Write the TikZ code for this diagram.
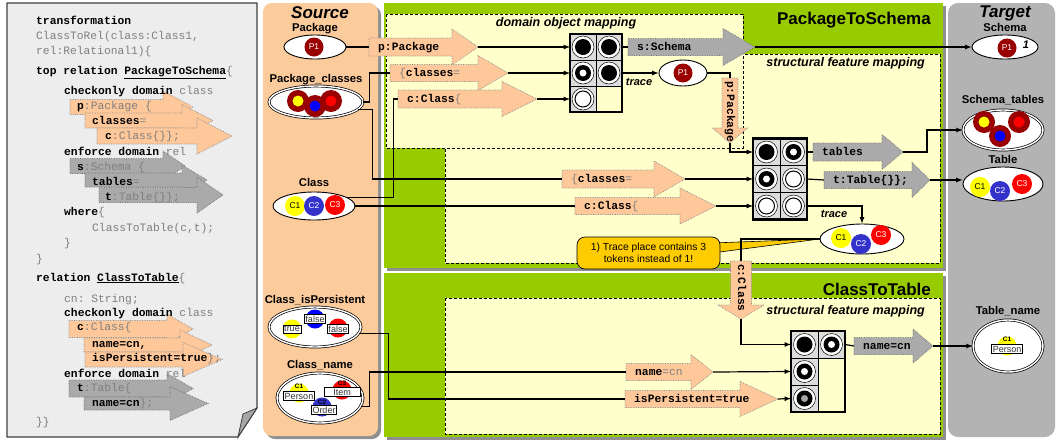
\documentclass[tikz,border=0pt]{standalone}
\usepackage{fontspec}
\setmainfont{Liberation Sans}
\setsansfont{Liberation Sans}
\setmonofont{Liberation Mono}
\usetikzlibrary{shapes.geometric,positioning}

\definecolor{docgray}{HTML}{EDEDED}
\definecolor{srcorange}{HTML}{FCCB9C}
\definecolor{arrorange}{HTML}{FFC89A}
\definecolor{arrgray}{HTML}{AAAAAA}
\definecolor{mapgreen}{HTML}{99CC00}
\definecolor{mapyellow}{HTML}{FFFFCC}
\definecolor{tgtgray}{HTML}{B3B3B3}
\definecolor{shadowgray}{HTML}{8F8F8F}
\definecolor{codegray}{HTML}{7F7F7F}
\definecolor{dkred}{HTML}{990000}
\definecolor{tokyellow}{HTML}{FFFF00}
\definecolor{tokblue}{HTML}{3333CC}
\definecolor{tokred}{HTML}{FF0000}
\definecolor{cellgray}{HTML}{DDDDDD}
\definecolor{notegold}{HTML}{FFCC00}

\newcommand\codefont{\ttfamily\fontsize{11.3}{13}\selectfont}
\newcommand\gry[1]{\textcolor{codegray}{#1}}

% block arrow: style, name, left x, mid y, head x, tip x, half body, half head, text
\newcommand\blockarrow[9]{%
  \draw[#1] (#3,#4-#7) -- (#5,#4-#7) -- (#5,#4-#8) -- (#6,#4) -- (#5,#4+#8) -- (#5,#4+#7) -- (#3,#4+#7) -- cycle;
  \coordinate (#2-in) at (#3,#4);
  \coordinate (#2-out) at (#6,#4);
  \node[codeln] (#2-txt) at (#3+9,#4) {#9};
}
% same, pointing down: style, name, mid x, top y, head y, tip y, half body, half head, text
\newcommand\vblockarrow[9]{%
  \draw[#1] (#3-#7,#4) -- (#3-#7,#5) -- (#3-#8,#5) -- (#3,#6) -- (#3+#8,#5) -- (#3+#7,#5) -- (#3+#7,#4) -- cycle;
  \coordinate (#2-in) at (#3,#4);
  \coordinate (#2-out) at (#3,#6);
  \node[codeln, rotate=-90] (#2-txt) at (#3,#4+3) {#9};
}
% places inside a transition
\newcommand\plcfull[1]{\draw[fill=white, line width=0.5pt] (#1) circle (11pt); \fill (#1) circle (8pt);}
\newcommand\plcring[1]{\draw[fill=white, line width=0.5pt] (#1) circle (11pt); \fill (#1) circle (8pt); \fill[white] (#1) circle (3.5pt);}
\newcommand\plcempty[1]{\draw[fill=white, line width=0.5pt] (#1) circle (11pt); \draw[fill=white, line width=1pt] (#1) circle (8pt);}
\newcommand\plcgray[1]{\draw[fill=white, line width=0.5pt] (#1) circle (11pt); \fill (#1) circle (8pt); \fill[black!35] (#1) circle (3.5pt);}
% token with inner dot
\newcommand\ctok[2]{\fill[dkred] (#1) circle (11pt); \fill[#2] (#1) circle (5.5pt);}

\begin{document}
\begin{tikzpicture}[x=1pt, y=-1pt, >=latex,
  codeln/.style={font=\codefont, anchor=west, inner sep=0pt, text height=8pt, text depth=2pt},
  nodelbl/.style={font=\bfseries\fontsize{11.3}{12}\selectfont, inner sep=0pt, text height=8.5pt, text depth=2.5pt},
  bigttl/.style={font=\bfseries\fontsize{17}{18}\selectfont, inner sep=0pt},
  sidettl/.style={font=\bfseries\itshape\fontsize{17}{18}\selectfont, inner sep=0pt},
  mapname/.style={font=\bfseries\itshape\fontsize{12.5}{13}\selectfont, inner sep=0pt},
  tracelbl/.style={font=\bfseries\itshape\fontsize{11}{12}\selectfont, inner sep=0pt},
  pl/.style={ellipse, draw, fill=white, line width=0.9pt, inner sep=0pt},
  dpl/.style={pl, double, double distance=1.4pt, line width=0.7pt},
  tok/.style={circle, inner sep=0pt, minimum size=19pt, font=\fontsize{8.5}{9}\selectfont},
  valbox/.style={draw, fill=white, inner sep=1.2pt, line width=0.6pt, font=\fontsize{9}{10}\selectfont, text=black!80},
  tinylbl/.style={font=\bfseries\fontsize{6.5}{7}\selectfont, inner sep=0pt},
  oarr/.style={fill=arrorange, draw=black!45, densely dotted, line width=0.7pt},
  garr/.style={fill=arrgray, draw=black!55, densely dotted, line width=0.7pt},
  conn/.style={line width=1.2pt},
  mapbox/.style={draw=black, densely dashed, line width=0.8pt, fill=mapyellow},
  cellbox/.style={draw, fill=cellgray, line width=0.5pt, minimum size=#1, inner sep=0pt, outer sep=0pt},
  blankbox/.style={minimum size=#1, inner sep=0pt, outer sep=0pt},
  notebox/.style={draw, fill=notegold, rounded corners=8pt, line width=0.7pt, minimum width=143pt,
    minimum height=32pt, align=center, inner sep=0pt, font=\fontsize{10.3}{12.5}\selectfont}]

\useasboundingbox (0,0) rectangle (1058,440);

% QVT text
\draw[fill=docgray, draw=black!75, line width=1.2pt] (7,3) -- (257,3) -- (257,408) -- (238,437) -- (7,437) -- cycle;
\draw[fill=black!35, draw=black!75, line width=0.8pt] (238,437) -- (243,414) -- (257,408) -- cycle;

\blockarrow{oarr}{la1}{70}{107}{163}{193}{7.5}{16}{}
\blockarrow{oarr}{la2}{85}{120.5}{182}{213}{7.5}{16}{}
\blockarrow{oarr}{la3}{97}{136}{197}{232}{8}{18}{}
\blockarrow{garr}{la4}{70}{166}{163}{185}{7.5}{15}{}
\blockarrow{garr}{la5}{85}{180}{182}{207}{7}{15}{}
\blockarrow{garr}{la6}{99}{195}{197}{223}{7.5}{18}{}
\blockarrow{oarr}{lb1}{69}{329}{167}{193}{8.5}{15}{}
\blockarrow{oarr}{lb2}{84}{345}{180}{212}{7}{15}{}
\blockarrow{oarr}{lb3}{85}{359.5}{183}{222}{7.5}{17}{}
\blockarrow{garr}{lb4}{69}{388.5}{167}{193}{8.5}{15}{}
\blockarrow{garr}{lb5}{84}{403.5}{170}{208}{6.5}{17}{}

\node[codeln] (l1) at (36,21) {\textbf{transformation}};
\node[codeln] (l2) at (36,36) {\gry{ClassToRel(class:Class1,}};
\node[codeln] (l3) at (36,51) {\gry{rel:Relational1)\{}};
\node[codeln] (l4) at (36,71) {\textbf{top relation \underline{PackageToSchema}}\gry{\{}};
\node[codeln] (l5) at (64,91) {\textbf{checkonly domain} \gry{class}};
\node[codeln] (l6) at (77,106) {\textbf{p}\gry{:Package \{}};
\node[codeln] (l7) at (92,121) {\textbf{classes}\gry{=}};
\node[codeln] (l8) at (105,136) {\textbf{c}\gry{:Class\{\}\};}};
\node[codeln] (l9) at (64,152) {\textbf{enforce domain} \gry{rel}};
\node[codeln] (l10) at (77,167) {\textbf{s}\gry{:Schema \{}};
\node[codeln] (l11) at (92,182) {\textbf{tables}\gry{=}};
\node[codeln] (l12) at (105,197) {\textbf{t}\gry{:Table\{\}\};}};
\node[codeln] (l13) at (64,212) {\textbf{where}\gry{\{}};
\node[codeln] (l14) at (92,228) {\gry{ClassToTable(c,t);}};
\node[codeln] (l15) at (64,243) {\gry{\}}};
\node[codeln] (l16) at (36,259) {\gry{\}}};
\node[codeln] (l17) at (36,278) {\textbf{relation \underline{ClassToTable}}\gry{\{}};
\node[codeln] (l18) at (64,299) {\gry{cn: String;}};
\node[codeln] (l19) at (64,313) {\textbf{checkonly domain} \gry{class}};
\node[codeln] (l20) at (77,327) {\textbf{c}\gry{:Class\{}};
\node[codeln] (l21) at (92,344) {\textbf{name=cn,}};
\node[codeln] (l22) at (92,358) {\textbf{isPersistent=true}\gry{\};}};
\node[codeln] (l23) at (64,374) {\textbf{enforce domain} \gry{rel}};
\node[codeln] (l24) at (77,388) {\textbf{t}\gry{:Table\{}};
\node[codeln] (l25) at (92,403) {\textbf{name=cn}\gry{\};}};
\node[codeln] (l26) at (36,422) {\gry{\}\}}};

% panels
\fill[shadowgray, rounded corners=9pt] (266,6) rectangle (381,439);
\fill[srcorange, rounded corners=9pt] (263,3) rectangle (378,436);
\fill[shadowgray] (387,6) rectangle (946,271);
\fill[mapgreen] (384,3) rectangle (943,268);
\fill[shadowgray] (387,276) rectangle (946,440);
\fill[mapgreen] (384,273) rectangle (943,437);
\draw[mapbox] (445,54) rectangle (940,263);
\draw[mapbox] (386,14) rectangle (743,148);
\draw[mapbox] (445,298) rectangle (940,434);
\fill[tgtgray, rounded corners=10pt] (948,3) rectangle (1055,437);

\node[sidettl] (srcttl) at (320,13) {Source};
\node[sidettl] (tgtttl) at (1005,13) {Target};
\node[bigttl, anchor=east] (p2sttl) at (931,20) {PackageToSchema};
\node[bigttl, anchor=east] (c2tttl) at (931,289) {ClassToTable};
\node[mapname] (domttl) at (566,23) {domain object mapping};
\node[mapname, anchor=east] (sf1ttl) at (925,63) {structural feature mapping};
\node[mapname, anchor=east] (sf2ttl) at (925,311) {structural feature mapping};

% source places
\node[pl, minimum width=62pt, minimum height=24pt] (pkg) at (315,47) {};
\node[nodelbl, above=0pt of pkg] (pkglbl) {Package};
\node[tok, fill=dkred, text=white] (pkgp1) at (314,47) {P1};

\node[dpl, minimum width=94pt, minimum height=32pt] (pcls) at (316,102) {};
\node[nodelbl, above=0pt of pcls] (pclslbl) {Package\_classes};
\ctok{298,101}{tokyellow}
\ctok{315,106}{blue}
\ctok{331,101}{tokred}

\node[pl, minimum width=82pt, minimum height=28pt] (cls) at (314,206) {};
\node[nodelbl, above=2pt of cls] (clslbl) {Class};
\node[tok, fill=tokyellow, minimum size=20pt] (clsc1) at (295,206) {C1};
\node[tok, fill=tokblue, text=white, minimum size=20pt] (clsc2) at (314,206) {C2};
\node[tok, fill=tokred, text=white, minimum size=20pt] (clsc3) at (335,205) {C3};

\node[dpl, minimum width=92pt, minimum height=40pt] (cip) at (315,327) {};
\node[nodelbl, above=0pt of cip] (ciplbl) {Class\_isPersistent};
\node[tok, fill=tokyellow] (cipc1) at (292,329) {};
\node[tok, fill=blue] (cipc2) at (315,319) {};
\node[tok, fill=tokred] (cipc3) at (338,328) {};
\node[valbox] (cipv1) at (292,329) {true};
\node[valbox] (cipv2) at (315,319) {false};
\node[valbox] (cipv3) at (338,329) {false};

\node[dpl, minimum width=86pt, minimum height=50pt] (cnm) at (320,398) {};
\node[nodelbl, above=1.5pt of cnm] (cnmlbl) {Class\_name};
\node[tok, fill=tokyellow] (cnmc1) at (299,393) {};
\node[tok, fill=tokred] (cnmc3) at (342,390) {};
\node[tok, fill=tokblue] (cnmc2) at (322,407) {};
\node[tinylbl] (cnmt1) at (299,386) {C1};
\node[tinylbl] (cnmt3) at (342,383) {C3};
\node[tinylbl] (cnmt2) at (322,402) {C2};
\node[valbox] (cnmv1) at (299,396) {Person};
\node[valbox, minimum width=36pt] (cnmv3) at (342,392) {Item};
\node[valbox] (cnmv2) at (324,410) {Order};

% target places
\node[pl, minimum width=66pt, minimum height=24pt] (schema) at (1005,47) {};
\node[nodelbl, above=0pt of schema] (schemalbl) {Schema};
\node[tok, fill=dkred, text=white] (schp1) at (1007,48) {P1};
\node[tracelbl] (schone) at (1026,45) {1};

\node[dpl, minimum width=80pt, minimum height=40pt] (stab) at (1003,130) {};
\node[nodelbl, above=3pt of stab] (stablbl) {Schema\_tables};
\ctok{984,122}{tokyellow}
\ctok{1019,122}{tokred}
\ctok{1000,136}{blue}

\node[pl, minimum width=80pt, minimum height=34pt] (tab) at (1003,184) {};
\node[nodelbl, above=0pt of tab] (tablbl) {Table};
\node[tok, fill=tokyellow, minimum size=20pt] (tabc1) at (980,187) {C1};
\node[tok, fill=tokblue, text=white, minimum size=20pt] (tabc2) at (1000,191) {C2};
\node[tok, fill=tokred, text=white, minimum size=20pt] (tabc3) at (1022,184) {C3};

\node[dpl, minimum width=70pt, minimum height=52pt] (tname) at (1008,346) {};
\node[nodelbl, above=2.5pt of tname] (tnamelbl) {Table\_name};
\node[tok, fill=tokyellow] (tnc1) at (1007,346) {};
\node[tinylbl] (tnt1) at (1007,339) {C1};
\node[valbox] (tnv1) at (1007,349) {Person};

% trace places
\node[pl, minimum width=48pt, minimum height=26pt] (trP) at (683,73) {};
\node[tok, fill=dkred, text=white] (trp1) at (683,73) {P1};
\node[pl, minimum width=84pt, minimum height=30pt] (trC) at (862,239) {};
\node[tok, fill=tokyellow, minimum size=20pt] (trc1) at (841,238) {C1};
\node[tok, fill=tokblue, text=white, minimum size=20pt] (trc2) at (861,244) {C2};
\node[tok, fill=tokred, text=white, minimum size=20pt] (trc3) at (881,235) {C3};
\node[tracelbl] (tr1lbl) at (639,82) {trace};
\node[tracelbl] (tr2lbl) at (834,214) {trace};

% transitions
\node[cellbox=26pt] (g1a) at (583,47) {};
\node[cellbox=26pt, right=0pt of g1a] (g1b) {};
\node[cellbox=26pt, below=0pt of g1a] (g1c) {};
\node[cellbox=26pt, right=0pt of g1c] (g1d) {};
\node[cellbox=26pt, below=0pt of g1c] (g1e) {};
\node[blankbox=26pt, right=0pt of g1e] (g1f) {};
\plcfull{g1a} \plcfull{g1b} \plcring{g1c} \plcfull{g1d} \plcempty{g1e}
\draw[line width=2.2pt] (g1a.north west) rectangle (g1f.south east);

\node[cellbox=27pt] (g2a) at (766.5,152) {};
\node[cellbox=27pt, right=0pt of g2a] (g2b) {};
\node[cellbox=27pt, below=0pt of g2a] (g2c) {};
\node[cellbox=27pt, right=0pt of g2c] (g2d) {};
\node[cellbox=27pt, below=0pt of g2c] (g2e) {};
\node[cellbox=27pt, right=0pt of g2e] (g2f) {};
\plcfull{g2a} \plcring{g2b} \plcring{g2c} \plcempty{g2d} \plcempty{g2e} \plcempty{g2f}
\draw[line width=2.2pt] (g2a.north west) rectangle (g2f.south east);

\node[cellbox=27pt] (g3a) at (804.5,344.5) {};
\node[cellbox=27pt, right=0pt of g3a] (g3b) {};
\node[cellbox=27pt, below=0pt of g3a] (g3c) {};
\node[blankbox=27pt, right=0pt of g3c] (g3d) {};
\node[cellbox=27pt, below=0pt of g3c] (g3e) {};
\node[blankbox=27pt, right=0pt of g3e] (g3f) {};
\plcfull{g3a} \plcring{g3b} \plcring{g3c} \plcgray{g3e}
\draw[line width=2.2pt] (g3a.north west) rectangle (g3f.south east);

% feature arrows
\blockarrow{oarr}{ap}{369}{47}{452}{478}{9}{18}{\textbf{p:Package}}
\blockarrow{oarr}{acl}{390}{73}{478}{508}{8.5}{17.5}{\gry{\{}\textbf{classes}\gry{=}}
\blockarrow{oarr}{ac}{398}{99}{502}{537}{9}{17.5}{\textbf{c:Class}\gry{\{}}
\blockarrow{garr}{as}{628}{47}{723}{755}{8.5}{18.5}{\textbf{s:Schema}}
\blockarrow{oarr}{acl2}{562}{179}{654}{685}{9}{18}{\gry{\{}\textbf{classes}\gry{=}}
\blockarrow{oarr}{ac2}{575}{206}{680}{716}{8.5}{18}{\textbf{c:Class}\gry{\{}}
\blockarrow{garr}{at}{813}{152}{882}{903}{9}{17.5}{\textbf{tables}}
\blockarrow{garr}{att}{824}{180}{912}{930}{8.5}{17.5}{\textbf{t:Table\{\}\};}}
\blockarrow{oarr}{an}{626}{372}{691}{713}{8.5}{17.5}{\textbf{name}\gry{=cn}}
\blockarrow{oarr}{ai}{625}{399}{740}{778}{8.5}{17.5}{\textbf{isPersistent=true}}
\blockarrow{garr}{an2}{854}{346}{913}{933}{8.5}{17}{\textbf{name=cn}}
\vblockarrow{oarr}{vp}{730}{78}{128}{143}{8}{17.5}{\textbf{p:Package}}
\vblockarrow{oarr}{vc}{741}{261}{305}{319}{10.5}{23}{\textbf{c:Class}}

% callout pointer
\draw[fill=notegold, line width=0.6pt] (712,243) -- (trC.west) -- (712,253);

% connectors
\draw[conn] (pkg.east) -- (ap-in);
\draw[conn,->] (ap-out) -- (g1a.west);
\draw[conn] (pcls.east) -- ++(6,0) |- (acl-in);
\draw[conn,->] (acl-out) -- (g1c.west);
\draw[conn] (cls.15) -- ++(47,0) |- (ac-in);
\draw[conn,->] (ac-out) -- (g1e.west);
\draw[conn] (pcls.-10) -- ++(14,0) |- (acl2-in);
\draw[conn,->] (acl2-out) -- (g2c.west);
\draw[conn] (cls.east) -- (ac2-in);
\draw[conn,->] (ac2-out) -- (g2e.west);
\draw[conn] (g1b.east) -- (as-in);
\draw[conn,->] (as-out) -- (schema.west);
\draw[conn,->] (g1d.east) -- (trP.west);
\draw[conn] (trP.east) -| (vp-in);
\draw[conn,->] (vp-out) |- (g2a.west);
\draw[conn] (g2b.east) -- (at-in);
\draw[conn,->] (at-out) -- ++(24,0) |- (stab.west);
\draw[conn] (g2d.east) -- (att-in);
\draw[conn,->] (att-out) -- (att-out -| tab.west);
\draw[conn,->] (g2f.east) -| (trC.north);
\draw[conn] (trC.west) -| (vc-in);
\draw[conn,->] (vc-out) |- (g3a.west);
\draw[conn] (cip.-8) -- ++(29,0) |- (ai-in);
\draw[conn,->] (ai-out) -- (g3e.west);
\draw[conn] (cnm.-12) -- ++(9,0) |- (an-in);
\draw[conn,->] (an-out) -- (g3c.west);
\draw[conn] (g3b.east) -- (an2-in);
\draw[conn,->] (an2-out) -- (tname.west);

\node[notebox] (note) at (648.5,253) {1) Trace place contains 3\\tokens instead of 1!};

\end{tikzpicture}
\end{document}
